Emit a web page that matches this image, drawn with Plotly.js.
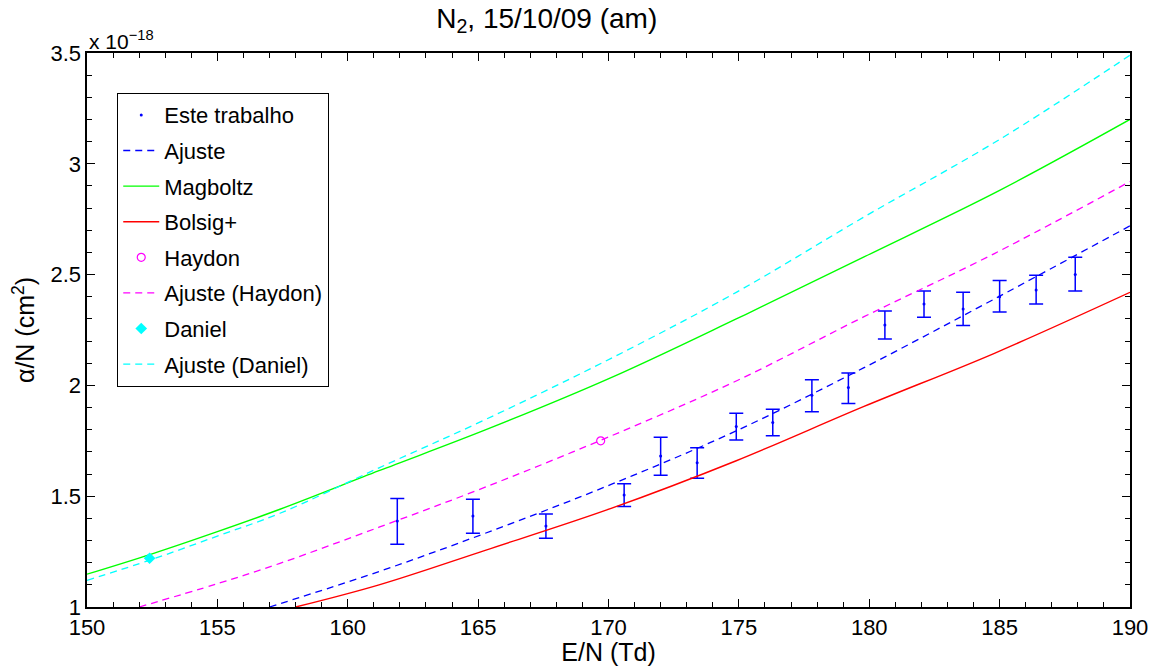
<!DOCTYPE html>
<html>
<head>
<meta charset="utf-8">
<script src="https://cdn.plot.ly/plotly-3.0.1.min.js"></script>
<style>html,body{margin:0;padding:0;background:#fff;}#chart{width:1151px;height:666px;}</style>
</head>
<body>
<div id="chart"></div>
<script>
// Este trabalho (values in units of 1e-18 cm^2)
const ptsX = [161.9,164.8,167.6,170.6,172.0,173.4,174.9,176.3,177.8,179.2,180.6,182.1,183.6,185.0,186.4,187.9];
const ptsY = [1.388,1.411,1.366,1.505,1.681,1.651,1.814,1.833,1.955,1.990,2.273,2.367,2.345,2.400,2.430,2.501];
const errUp = [0.102,0.075,0.054,0.051,0.085,0.068,0.060,0.059,0.071,0.066,0.063,0.059,0.075,0.073,0.067,0.077];
const errDown = [0.105,0.078,0.056,0.052,0.087,0.070,0.060,0.060,0.074,0.072,0.064,0.060,0.075,0.069,0.063,0.075];

// Ajuste (fit to this work)
const ajusteX = [157.0,161.2,165.3,170.1,174.9,179.8,184.8,190];
const ajusteY = [1.0,1.16,1.334,1.553,1.795,2.08,2.39,2.72];

// Magboltz
const magX = [150,152.5,155,157.4,161.2,165.3,170.1,174.9,179.8,185.0,190];
const magY = [1.148,1.24,1.34,1.441,1.615,1.80,2.035,2.30,2.58,2.88,3.20];

// Bolsig+
const bolX = [158.0,161.2,165.3,170.1,174.9,179.8,184.8,190];
const bolY = [1.0,1.10,1.257,1.445,1.66,1.905,2.145,2.42];

// Haydon
const haydonX = [169.7];
const haydonY = [1.75];
const haydonFitX = [152.0,155,157.4,161.2,165.3,170.1,174.9,179.8,184.8,190];
const haydonFitY = [1.0,1.105,1.197,1.36,1.542,1.772,2.02,2.31,2.595,2.92];

// Daniel
const danielX = [152.4];
const danielY = [1.22];
const danielFitX = [150,152.5,155,157.4,161.2,165.3,170.1,174.9,179.8,185.0,190];
const danielFitY = [1.120,1.215,1.32,1.423,1.628,1.847,2.122,2.42,2.76,3.11,3.49];

const FONT = 'Liberation Sans, Arial, sans-serif';
const DASH = '7px,5px';

const traces = [
  {x: ptsX, y: ptsY, name: 'Este trabalho', mode: 'markers', type: 'scatter', legendgroup: 'a',
   marker: {color: '#0000ff', size: 3},
   error_y: {type: 'data', symmetric: false, array: errUp, arrayminus: errDown, color: '#0000ff', thickness: 1.5, width: 7}},
  {x: ajusteX, y: ajusteY, name: 'Ajuste', mode: 'lines', type: 'scatter', legendgroup: 'b',
   line: {color: '#0000ff', width: 1.3, dash: DASH, shape: 'spline'}},
  {x: magX, y: magY, name: 'Magboltz', mode: 'lines', type: 'scatter', legendgroup: 'c',
   line: {color: '#00ff00', width: 1.4, shape: 'spline'}},
  {x: bolX, y: bolY, name: 'Bolsig+', mode: 'lines', type: 'scatter', legendgroup: 'd',
   line: {color: '#ff0000', width: 1.4, shape: 'spline'}},
  {x: haydonX, y: haydonY, name: 'Haydon', mode: 'markers', type: 'scatter', legendgroup: 'e',
   marker: {color: '#ff00ff', size: 8, symbol: 'circle-open', line: {width: 1.2, color: '#ff00ff'}}},
  {x: haydonFitX, y: haydonFitY, name: 'Ajuste (Haydon)', mode: 'lines', type: 'scatter', legendgroup: 'f',
   line: {color: '#ff00ff', width: 1.3, dash: DASH, shape: 'spline'}},
  {x: danielX, y: danielY, name: 'Daniel', mode: 'markers', type: 'scatter', legendgroup: 'g',
   marker: {color: '#00ffff', size: 9, symbol: 'diamond'}},
  {x: danielFitX, y: danielFitY, name: 'Ajuste (Daniel)', mode: 'lines', type: 'scatter', legendgroup: 'h',
   line: {color: '#00ffff', width: 1.3, dash: DASH, shape: 'spline'}}
];

const axisCommon = {
  showline: true, linecolor: '#000', linewidth: 1.6, mirror: 'allticks',
  ticks: 'inside', ticklen: 8, tickwidth: 1.2, tickcolor: '#000',
  showgrid: false, zeroline: false,
  tickfont: {family: FONT, size: 22, color: '#000'}
};

const layout = {
  width: 1151, height: 666,
  margin: {l: 87, r: 21, t: 53, b: 59},
  paper_bgcolor: '#fff', plot_bgcolor: '#fff',
  font: {family: FONT, color: '#000'},
  title: {text: 'N<sub>2</sub>, 15/10/09 (am)', font: {family: FONT, size: 28, color: '#000'}, x: 0.475, xanchor: 'center', y: 0.988, yanchor: 'top'},
  xaxis: Object.assign({}, axisCommon, {
    range: [150, 190], tickvals: [150,155,160,165,170,175,180,185,190],
    minor: {dtick: 1, ticks: 'inside', ticklen: 5, tickwidth: 1, tickcolor: '#000', showgrid: false},
    title: {text: 'E/N (Td)', font: {family: FONT, size: 25, color: '#000'}, standoff: 6}
  }),
  yaxis: Object.assign({}, axisCommon, {
    range: [1, 3.5], tickvals: [1,1.5,2,2.5,3,3.5], ticktext: ['1','1.5','2','2.5','3','3.5'],
    minor: {dtick: 0.1, ticks: 'inside', ticklen: 5, tickwidth: 1, tickcolor: '#000', showgrid: false},
    title: {text: 'α/N (cm<sup>2</sup>)', font: {family: FONT, size: 25, color: '#000'}, standoff: 8}
  }),
  legend: {
    x: 0.0288, y: 0.928, xanchor: 'left', yanchor: 'top',
    bgcolor: '#fff', bordercolor: '#000', borderwidth: 1.2,
    font: {family: FONT, size: 22, color: '#000'},
    tracegroupgap: 4, itemwidth: 36, traceorder: 'grouped'
  },
  showlegend: true,
  annotations: [
    {text: 'x 10<sup>−18</sup>', xref: 'paper', yref: 'paper', x: 0, y: 1, xanchor: 'left', yanchor: 'bottom',
     showarrow: false, font: {family: FONT, size: 21, color: '#000'}, yshift: -2}
  ]
};

Plotly.newPlot('chart', traces, layout, {displayModeBar: false, staticPlot: true});
</script>
</body>
</html>
